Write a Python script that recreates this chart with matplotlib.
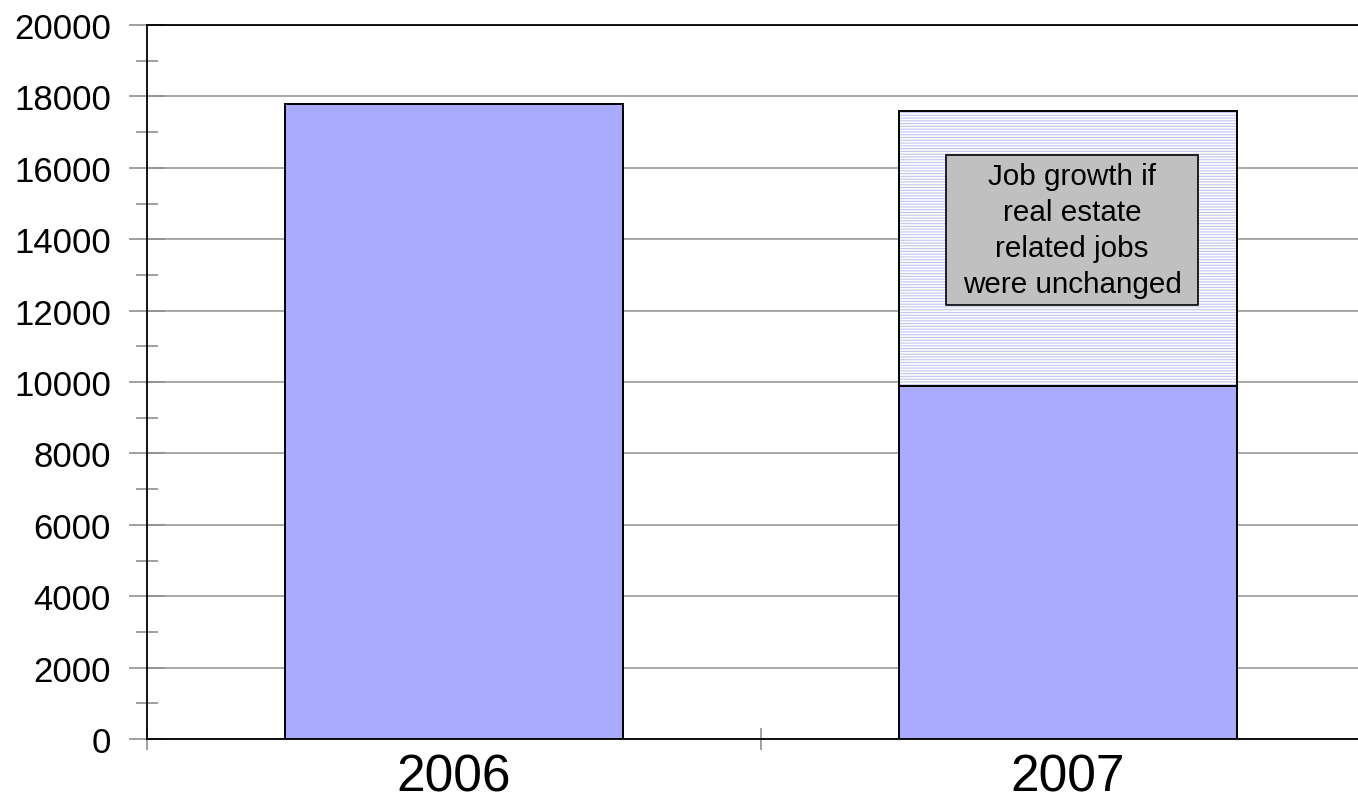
import matplotlib
matplotlib.use("Agg")
import matplotlib.pyplot as plt
from matplotlib.patches import Rectangle
from matplotlib.ticker import MultipleLocator

# ---- data ----
years = ["2006", "2007"]
actual_jobs = [17800, 9900]
jobs_if_unchanged = [None, 17600]
y_ticks = [0, 2000, 4000, 6000, 8000, 10000, 12000, 14000, 16000, 18000, 20000]
note = "Job growth if\nreal estate\nrelated jobs\nwere unchanged"

plt.rcParams['font.family'] = ['Liberation Sans', 'DejaVu Sans']
plt.rcParams['hatch.linewidth'] = 0.8

W, H = 1358, 803
fig = plt.figure(figsize=(W / 100, H / 100), dpi=100)
ax = fig.add_axes([147 / W, (H - 740) / H, (W - 147) / W, 714 / H])

x = list(range(len(years)))
bar_w = 0.552
bar_col = "#aaaaff"

ax.bar(x, actual_jobs, width=bar_w, color=bar_col, edgecolor="black",
       linewidth=1.4, zorder=3)

# counterfactual extension (hatched)
for xi, a, c in zip(x, actual_jobs, jobs_if_unchanged):
    if c is None:
        continue
    ax.bar(xi, c - a, bottom=a, width=bar_w, color="white", edgecolor="#c4c4f4",
           hatch="------", linewidth=0, zorder=3)
    ax.bar(xi, c - a, bottom=a, width=bar_w, fill=False, edgecolor="black",
           linewidth=1.4, zorder=4)

# note box
ax.add_patch(Rectangle((799 / 1211, (740 - 306) / 714), 252 / 1211, 150 / 714,
                       transform=ax.transAxes, facecolor="#c0c0c0",
                       edgecolor="black", linewidth=1.2, zorder=5))
ax.text((1072 - 147) / 1211, (740 - 231) / 714, note, transform=ax.transAxes,
        ha="center", va="center", fontsize=21.3, linespacing=1.36, zorder=6)

ax.set_yticks(y_ticks)
ax.set_yticklabels([str(v) for v in y_ticks], fontsize=25)
ax.yaxis.set_minor_locator(MultipleLocator(1000))
ax.tick_params(axis="y", which="major", direction="inout", length=26,
               width=1.2, color="#909090", pad=13)
ax.tick_params(axis="y", which="minor", direction="inout", length=16.5,
               width=1.2, color="#909090")

ax.set_xticks([-0.5, 0.5, 1.5])
ax.set_xticklabels(["", "", ""])
ax.set_xticks(x, minor=True)
ax.set_xticklabels(years, minor=True, fontsize=37)
ax.tick_params(axis="x", which="major", direction="inout", length=16,
               width=1.2, color="#909090")
ax.tick_params(axis="x", which="minor", length=0, pad=10)

ax.set_ylim(0, 20000)
ax.set_xlim(-0.5, -0.5 + 1211 / 614)

ax.grid(axis="y", which="major", color="#a8a8a8", linewidth=1.4, zorder=0)
ax.set_axisbelow(True)

for s in ["left", "top", "bottom"]:
    ax.spines[s].set_color("black")
    ax.spines[s].set_linewidth(1.3)
ax.spines["right"].set_visible(False)

fig.savefig("out.png", dpi=100)
